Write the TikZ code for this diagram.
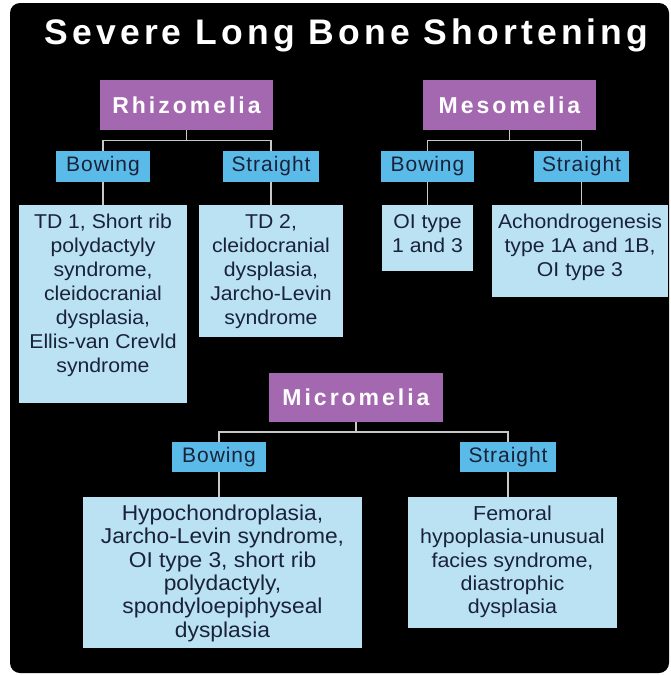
\documentclass[tikz,border=0pt]{standalone}
\usepackage{fontspec}
\setmainfont{Liberation Sans}
\newfontfamily\listfont[FakeStretch=1.06]{Liberation Sans}
\newfontfamily\labfont[LetterSpace=4.5]{Liberation Sans}
\newfontfamily\headfont[LetterSpace=13]{Liberation Sans}
\newfontfamily\titlefont[LetterSpace=11.6]{Liberation Sans}
\definecolor{catpurple}{RGB}{164,104,176}
\definecolor{labblue}{RGB}{91,187,232}
\definecolor{lstblue}{RGB}{186,226,243}
\definecolor{navy}{RGB}{26,34,58}
\definecolor{conngray}{RGB}{200,200,200}
\newcommand{\lstbox}[3]{\parbox[c][#2][t]{#1}{\centering\rule{0pt}{23pt}#3\par}}
\tikzset{
  cat/.style={fill=catpurple, text=white, font=\headfont\bfseries\fontsize{23}{27}\selectfont,
    minimum width=173pt, minimum height=50pt, inner sep=0pt},
  lab/.style={fill=labblue, text=navy, font=\labfont\fontsize{21}{24}\selectfont,
    minimum height=31pt, inner sep=0pt},
  lst/.style={fill=lstblue, text=navy, font=\listfont\fontsize{20}{24.1}\selectfont,
    inner sep=0pt, anchor=north},
  conn/.style={draw=conngray, line width=1.4pt}
}
\begin{document}
\begin{tikzpicture}[x=1pt,y=-1pt]
\useasboundingbox (0,0) rectangle (670,675);
\fill[white] (0,0) rectangle (670,675);
\fill[black, rounded corners=10pt] (10,3) rectangle (669,673);

\node[text=white, font=\titlefont\bfseries\fontsize{35.5}{40}\selectfont, anchor=base] (title) at (346.5,44) {Severe Long Bone Shortening};

% categories
\node[cat] (R) at (186.5,105) {Rhizomelia};
\node[cat] (M) at (509.5,105) {Mesomelia};
\node[cat, minimum width=174pt, minimum height=49pt] (Mi) at (356,397.5) {Micromelia};

% labels
\node[lab, minimum width=94pt] (RB) at (103,166.5) {Bowing};
\node[lab, minimum width=96pt] (RS) at (271,166.5) {Straight};
\node[lab, minimum width=93pt] (MB) at (427.5,166.5) {Bowing};
\node[lab, minimum width=95pt] (MS) at (581.5,166.5) {Straight};
\node[lab, minimum width=94pt, minimum height=30pt] (MiB) at (219,457) {Bowing};
\node[lab, minimum width=96pt, minimum height=30pt] (MiS) at (508,457) {Straight};

% lists
\node[lst] (RBL) at (103,205)
  {\lstbox{168pt}{198pt}{TD 1, Short rib\\polydactyly\\syndrome,\\cleidocranial\\dysplasia,\\Ellis-van Crevld\\syndrome}};
\node[lst] (RSL) at (271,205)
  {\lstbox{144pt}{132pt}{TD 2,\\cleidocranial\\dysplasia,\\Jarcho-Levin\\syndrome}};
\node[lst] (MBL) at (427.5,205)
  {\lstbox{91pt}{66pt}{OI type\\1 and 3}};
\node[lst] (MSL) at (580,205)
  {\lstbox{176pt}{92pt}{Achondrogenesis\\type 1A and 1B,\\OI type 3}};
\node[lst, font=\listfont\fontsize{21.5}{23.4}\selectfont] (MiBL) at (222.5,497)
  {\lstbox{279pt}{151pt}{Hypochondroplasia,\\Jarcho-Levin syndrome,\\OI type 3, short rib\\polydactyly,\\spondyloepiphyseal\\dysplasia}};
\node[lst, font=\listfont\fontsize{20.2}{23.4}\selectfont] (MiSL) at (512.5,497)
  {\lstbox{209pt}{131pt}{Femoral\\hypoplasia-unusual\\facies syndrome,\\diastrophic\\dysplasia}};

% buses
\coordinate (bR) at (186.5,140.5);
\coordinate (bM) at (509.5,140.5);
\coordinate (bMi) at (356,432);

\draw[conn] (R.south) -- (bR);
\draw[conn] (RB.north) |- (bR) -| (RS.north);
\draw[conn] (M.south) -- (bM);
\draw[conn] (MB.north) |- (bM) -| (MS.north);
\draw[conn] (Mi.south) -- (bMi);
\draw[conn] (MiB.north) |- (bMi) -| (MiS.north);

\draw[conn] (RB.south) -- (RB.south |- RBL.north);
\draw[conn] (RS.south) -- (RS.south |- RSL.north);
\draw[conn] (MB.south) -- (MB.south |- MBL.north);
\draw[conn] (MS.south) -- (MS.south |- MSL.north);
\draw[conn] (MiB.south) -- (MiB.south |- MiBL.north);
\draw[conn] (MiS.south) -- (MiS.south |- MiSL.north);
\end{tikzpicture}
\end{document}
